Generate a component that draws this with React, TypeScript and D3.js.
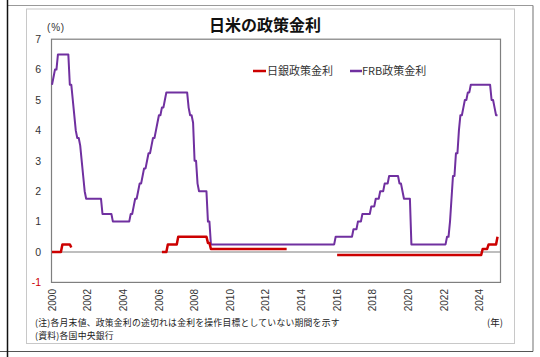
import React from "react";
import * as d3 from "d3";

const N = null;

// Monthly month-end values, Jan 2000 .. Jan 2025
const frbRate: number[] = [
  5.5, 5.75, 6, 6, 6.5, 6.5, 6.5, 6.5, 6.5, 6.5, 6.5, 6.5, // 2000
  5.5, 5.5, 5, 4.5, 4, 3.75, 3.75, 3.5, 3, 2.5, 2, 1.75, // 2001
  1.75, 1.75, 1.75, 1.75, 1.75, 1.75, 1.75, 1.75, 1.75, 1.75, 1.25, 1.25, // 2002
  1.25, 1.25, 1.25, 1.25, 1.25, 1, 1, 1, 1, 1, 1, 1, // 2003
  1, 1, 1, 1, 1, 1.25, 1.25, 1.5, 1.75, 1.75, 2, 2.25, // 2004
  2.25, 2.5, 2.75, 2.75, 3, 3.25, 3.25, 3.5, 3.75, 3.75, 4, 4.25, // 2005
  4.5, 4.5, 4.75, 4.75, 5, 5.25, 5.25, 5.25, 5.25, 5.25, 5.25, 5.25, // 2006
  5.25, 5.25, 5.25, 5.25, 5.25, 5.25, 5.25, 5.25, 4.75, 4.5, 4.5, 4.25, // 2007
  3, 3, 2.25, 2, 2, 2, 2, 2, 2, 1, 1, 0.25, // 2008
  0.25, 0.25, 0.25, 0.25, 0.25, 0.25, 0.25, 0.25, 0.25, 0.25, 0.25, 0.25, // 2009
  0.25, 0.25, 0.25, 0.25, 0.25, 0.25, 0.25, 0.25, 0.25, 0.25, 0.25, 0.25, // 2010
  0.25, 0.25, 0.25, 0.25, 0.25, 0.25, 0.25, 0.25, 0.25, 0.25, 0.25, 0.25, // 2011
  0.25, 0.25, 0.25, 0.25, 0.25, 0.25, 0.25, 0.25, 0.25, 0.25, 0.25, 0.25, // 2012
  0.25, 0.25, 0.25, 0.25, 0.25, 0.25, 0.25, 0.25, 0.25, 0.25, 0.25, 0.25, // 2013
  0.25, 0.25, 0.25, 0.25, 0.25, 0.25, 0.25, 0.25, 0.25, 0.25, 0.25, 0.25, // 2014
  0.25, 0.25, 0.25, 0.25, 0.25, 0.25, 0.25, 0.25, 0.25, 0.25, 0.25, 0.5, // 2015
  0.5, 0.5, 0.5, 0.5, 0.5, 0.5, 0.5, 0.5, 0.5, 0.5, 0.5, 0.75, // 2016
  0.75, 0.75, 1, 1, 1, 1.25, 1.25, 1.25, 1.25, 1.25, 1.25, 1.5, // 2017
  1.5, 1.5, 1.75, 1.75, 1.75, 2, 2, 2, 2.25, 2.25, 2.25, 2.5, // 2018
  2.5, 2.5, 2.5, 2.5, 2.5, 2.5, 2.25, 2.25, 2, 1.75, 1.75, 1.75, // 2019
  1.75, 1.75, 0.25, 0.25, 0.25, 0.25, 0.25, 0.25, 0.25, 0.25, 0.25, 0.25, // 2020
  0.25, 0.25, 0.25, 0.25, 0.25, 0.25, 0.25, 0.25, 0.25, 0.25, 0.25, 0.25, // 2021
  0.25, 0.25, 0.5, 0.5, 1, 1.75, 2.5, 2.5, 3.25, 3.25, 4, 4.5, // 2022
  4.5, 4.75, 5, 5, 5.25, 5.25, 5.5, 5.5, 5.5, 5.5, 5.5, 5.5, // 2023
  5.5, 5.5, 5.5, 5.5, 5.5, 5.5, 5.5, 5.5, 5, 5, 4.75, 4.5, // 2024
  4.5, // 2025
];

const bojRate: (number | null)[] = [
  0, 0, 0, 0, 0, 0, 0, 0.25, 0.25, 0.25, 0.25, 0.25, // 2000
  0.25, 0.15, N, N, N, N, N, N, N, N, N, N, // 2001
  N, N, N, N, N, N, N, N, N, N, N, N, // 2002
  N, N, N, N, N, N, N, N, N, N, N, N, // 2003
  N, N, N, N, N, N, N, N, N, N, N, N, // 2004
  N, N, N, N, N, N, N, N, N, N, N, N, // 2005
  N, N, 0, 0, 0, 0, 0.25, 0.25, 0.25, 0.25, 0.25, 0.25, // 2006
  0.25, 0.5, 0.5, 0.5, 0.5, 0.5, 0.5, 0.5, 0.5, 0.5, 0.5, 0.5, // 2007
  0.5, 0.5, 0.5, 0.5, 0.5, 0.5, 0.5, 0.5, 0.5, 0.3, 0.3, 0.1, // 2008
  0.1, 0.1, 0.1, 0.1, 0.1, 0.1, 0.1, 0.1, 0.1, 0.1, 0.1, 0.1, // 2009
  0.1, 0.1, 0.1, 0.1, 0.1, 0.1, 0.1, 0.1, 0.1, 0.1, 0.1, 0.1, // 2010
  0.1, 0.1, 0.1, 0.1, 0.1, 0.1, 0.1, 0.1, 0.1, 0.1, 0.1, 0.1, // 2011
  0.1, 0.1, 0.1, 0.1, 0.1, 0.1, 0.1, 0.1, 0.1, 0.1, 0.1, 0.1, // 2012
  0.1, 0.1, 0.1, N, N, N, N, N, N, N, N, N, // 2013
  N, N, N, N, N, N, N, N, N, N, N, N, // 2014
  N, N, N, N, N, N, N, N, N, N, N, N, // 2015
  -0.1, -0.1, -0.1, -0.1, -0.1, -0.1, -0.1, -0.1, -0.1, -0.1, -0.1, -0.1, // 2016
  -0.1, -0.1, -0.1, -0.1, -0.1, -0.1, -0.1, -0.1, -0.1, -0.1, -0.1, -0.1, // 2017
  -0.1, -0.1, -0.1, -0.1, -0.1, -0.1, -0.1, -0.1, -0.1, -0.1, -0.1, -0.1, // 2018
  -0.1, -0.1, -0.1, -0.1, -0.1, -0.1, -0.1, -0.1, -0.1, -0.1, -0.1, -0.1, // 2019
  -0.1, -0.1, -0.1, -0.1, -0.1, -0.1, -0.1, -0.1, -0.1, -0.1, -0.1, -0.1, // 2020
  -0.1, -0.1, -0.1, -0.1, -0.1, -0.1, -0.1, -0.1, -0.1, -0.1, -0.1, -0.1, // 2021
  -0.1, -0.1, -0.1, -0.1, -0.1, -0.1, -0.1, -0.1, -0.1, -0.1, -0.1, -0.1, // 2022
  -0.1, -0.1, -0.1, -0.1, -0.1, -0.1, -0.1, -0.1, -0.1, -0.1, -0.1, -0.1, // 2023
  -0.1, -0.1, 0.1, 0.1, 0.1, 0.1, 0.25, 0.25, 0.25, 0.25, 0.25, 0.25, // 2024
  0.5, // 2025
];

const startYear = 2000;
const xTickYears = [2000, 2002, 2004, 2006, 2008, 2010, 2012, 2014, 2016, 2018, 2020, 2022, 2024];
const yTicks = [-1, 0, 1, 2, 3, 4, 5, 6, 7];

const seriesNames = ["日銀政策金利", "FRB政策金利"];
const title = "日米の政策金利";
const note1 = "(注)各月末値、政策金利の途切れは金利を操作目標としていない期間を示す";
const note2 = "(資料)各国中央銀行";

const W = 540;
const H = 357;
const PL = 51.5, PR = 500.5, PT = 39.2, PB = 282.4;

const CJK = "'Noto Sans CJK JP', 'Noto Sans', sans-serif";
const NUM = "'Liberation Sans', Arial, sans-serif";

export default function App() {
  const x = d3.scaleLinear().domain([0, 302]).range([PL + 0.5, PR]);
  const y = d3.scaleLinear().domain([-1, 7]).range([PB, PT]);

  const lineFrb = d3
    .line<number>()
    .x((_, i) => x(i))
    .y((d) => y(d));
  const lineBoj = d3
    .line<number | null>()
    .defined((d) => d !== null)
    .x((_, i) => x(i))
    .y((d) => y(d as number));

  const purple = "#7030A0";
  const red = "#CC0000";

  return (
    <svg
      width={W}
      height={H}
      style={{ position: "absolute", left: 0, top: 0, background: "#fff" }}
    >
      <rect x={0} y={0} width={W} height={H} fill="#fff" />
      {/* page edges */}
      <line x1={8} x2={533} y1={5.5} y2={5.5} stroke="#999" strokeWidth={1} />
      <line x1={533} x2={533} y1={5.5} y2={351.5} stroke="#888" strokeWidth={1.2} />
      <line x1={0} x2={533} y1={351.5} y2={351.5} stroke="#555" strokeWidth={1.2} />
      <line x1={7.5} x2={7.5} y1={0} y2={H} stroke="#111" strokeWidth={1.5} />
      {/* chart frame */}
      <rect x={26.5} y={9} width={488} height={334.5} fill="#fff" stroke="#c8c8c8" strokeWidth={1} />

      {/* title */}
      <text
        x={265}
        y={31}
        textAnchor="middle"
        fontFamily={CJK}
        fontWeight={700}
        fontSize={16}
        fill="#111"
      >
        {title}
      </text>
      <text x={47} y={31} fontFamily={NUM} fontSize={10} letterSpacing={0.8} fill="#333">
        (%)
      </text>

      {/* plot area */}
      <rect x={PL} y={PT} width={PR - PL} height={PB - PT} fill="#fff" stroke="#7f7f7f" strokeWidth={1.2} />
      <line x1={PL} x2={PR} y1={y(0)} y2={y(0)} stroke="#7f7f7f" strokeWidth={1.2} />

      {/* y tick labels */}
      {yTicks.map((t) => (
        <text
          key={t}
          x={41}
          y={y(t) + 3.8}
          textAnchor="end"
          fontFamily={NUM}
          fontSize={10.5}
          fill={t < 0 ? "#cc0000" : "#333"}
        >
          {String(t)}
        </text>
      ))}

      {/* x tick labels */}
      {xTickYears.map((yr) => {
        const px = x((yr - startYear) * 12);
        return (
          <text
            key={yr}
            transform={`translate(${px + 3.6},289) rotate(-90)`}
            textAnchor="end"
            fontFamily={NUM}
            fontSize={10}
            fill="#333"
          >
            {String(yr)}
          </text>
        );
      })}

      {/* series */}
      <path d={lineFrb(frbRate) || ""} fill="none" stroke={purple} strokeWidth={2} strokeLinejoin="round" />
      <path d={lineBoj(bojRate) || ""} fill="none" stroke={red} strokeWidth={2.5} strokeLinejoin="round" />

      {/* legend */}
      <line x1={253} x2={266} y1={71} y2={71} stroke={red} strokeWidth={2.5} />
      <text x={267} y={75} fontFamily={CJK} fontSize={11} fill="#333">
        {seriesNames[0]}
      </text>
      <line x1={350} x2={362} y1={71} y2={71} stroke={purple} strokeWidth={2.5} />
      <text x={362} y={75} fontFamily={CJK} fontSize={11} fill="#333">
        {seriesNames[1]}
      </text>

      {/* notes */}
      <text x={35} y={325.5} fontFamily={CJK} fontSize={8.8} letterSpacing={0.25} fill="#222">
        {note1}
      </text>
      <text x={35} y={339} fontFamily={CJK} fontSize={8.8} letterSpacing={0.25} fill="#222">
        {note2}
      </text>
      <text x={503} y={325.5} textAnchor="end" fontFamily={CJK} fontSize={9.5} fill="#222">
        (年)
      </text>
    </svg>
  );
}
